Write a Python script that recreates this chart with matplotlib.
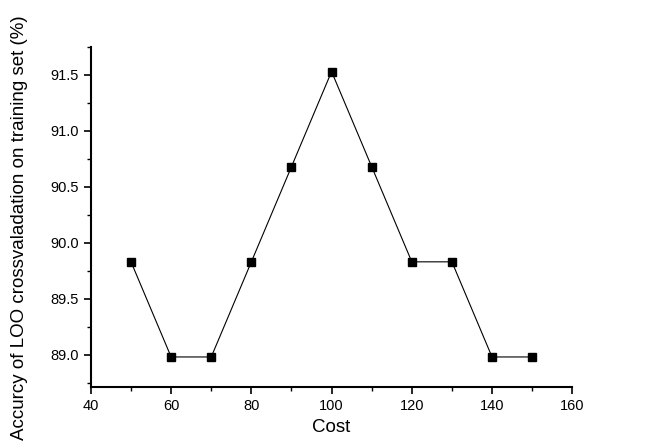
import numpy as np
import matplotlib
matplotlib.use("Agg")
import matplotlib.pyplot as plt
from matplotlib.ticker import MultipleLocator

plt.rcParams['font.family'] = ['Liberation Sans', 'DejaVu Sans']

# Cost parameter vs. LOO accuracy
cost = [50, 60, 70, 80, 90, 100, 110, 120, 130, 140, 150]
accuracy = [89.83, 88.98, 88.98, 89.83, 90.68, 91.53, 90.68, 89.83, 89.83, 88.98, 88.98]

fig = plt.figure(figsize=(6.54, 4.43), dpi=100)
ax = fig.add_axes([0.139, 0.126, 0.736, 0.768])

ax.plot(cost, accuracy, color='black', linewidth=0.8, marker='s',
        markersize=6, markerfacecolor='black', markeredgecolor='black')

ax.set_xlim(40, 160)
ax.set_ylim(88.71, 91.75)
ax.xaxis.set_major_locator(MultipleLocator(20))
ax.xaxis.set_minor_locator(MultipleLocator(10))
ax.yaxis.set_major_locator(MultipleLocator(0.5))
ax.yaxis.set_minor_locator(MultipleLocator(0.25))
ax.yaxis.set_major_formatter(matplotlib.ticker.FormatStrFormatter('%.1f'))

for side in ['top', 'right']:
    ax.spines[side].set_visible(False)
for side in ['left', 'bottom']:
    ax.spines[side].set_linewidth(1.5)

ax.tick_params(which='major', direction='out', length=5, width=1.2, labelsize=10.5)
ax.tick_params(which='minor', direction='out', length=3, width=1.0)

ax.set_xlabel('Cost', fontsize=13.5, labelpad=4)
ax.set_ylabel('Accurcy of LOO crossvaladation on training set (%)', fontsize=13.5)
ax.yaxis.set_label_coords(-0.13, 0.47)

fig.savefig('out.png', dpi=100)
